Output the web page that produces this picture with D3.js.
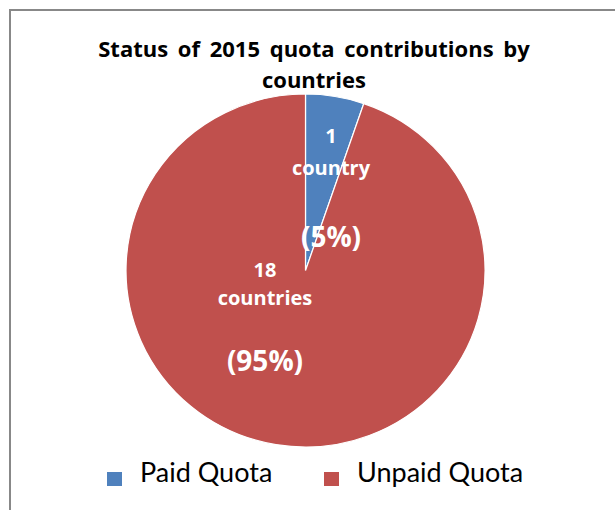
<!DOCTYPE html>
<html><head><meta charset="utf-8">
<script src="https://cdn.jsdelivr.net/npm/d3@7"></script>
<style>body{margin:0;background:#fff;}svg{display:block;}</style>
</head><body>
<svg id="c" width="615" height="510"></svg>
<script>
const categories = ["Paid Quota", "Unpaid Quota"];
const values = [1, 18];
const countLabels = ["1", "18"];
const unitLabels = ["country", "countries"];
const pctLabels = ["(5%)", "(95%)"];
const colors = ["#4F81BD", "#C0504D"];
const titleLines = ["Status of 2015 quota contributions by", "countries"];

const svg = d3.select("#c");
const boldFont = "'Open Sans', Lato, sans-serif";
const font = "Lato, 'Open Sans', sans-serif";

// border
svg.append("path").attr("d", "M10,520 L10,10 L625,10")
  .attr("fill", "none").attr("stroke", "#888").attr("stroke-width", 2);

// title
svg.append("g").selectAll("text").data(titleLines).join("text")
  .attr("x", 314).attr("y", (d, i) => 57 + i * 31)
  .attr("text-anchor", "middle").attr("font-family", boldFont)
  .attr("font-weight", "bold").attr("font-size", 22).attr("fill", "#000")
  .attr("word-spacing", 4)
  .text(d => d);

const cx = 305.5, cy = 270.5, r = 176.5;
const pie = d3.pie().sort(null).value(d => d)(values);
const arc = d3.arc().innerRadius(0).outerRadius(r);
const g = svg.append("g").attr("transform", `translate(${cx},${cy}) scale(${179.5 / 176.5},1)`);
g.selectAll("path").data(pie).join("path")
  .attr("d", arc).attr("fill", (d, i) => colors[i])
  .attr("stroke", "#fff").attr("stroke-width", 1.2);

// labels
const labelPos = [
  {x: 331, y: [143, 175, 247]},
  {x: 265, y: [277, 305, 371]}
];
pie.forEach((d, i) => {
  const p = labelPos[i];
  const lines = [countLabels[i], unitLabels[i], pctLabels[i]];
  lines.forEach((t, j) => {
    svg.append("text").attr("x", p.x).attr("y", p.y[j])
      .attr("text-anchor", "middle").attr("font-family", boldFont)
      .attr("font-weight", "bold").attr("font-size", j === 2 ? 28 : 20)
      .attr("fill", "#fff").text(t);
  });
});

// legend
const legX = [107, 324];
const lg = svg.append("g").selectAll("g").data(categories).join("g")
  .attr("transform", (d, i) => `translate(${legX[i]},0)`);
lg.append("rect").attr("x", 0).attr("y", 472).attr("width", 15).attr("height", 14)
  .attr("fill", (d, i) => colors[i]);
lg.append("text").attr("x", 33).attr("y", 482)
  .attr("font-family", font).attr("font-size", 27).attr("fill", "#000")
  .text(d => d);
</script>
</body></html>
